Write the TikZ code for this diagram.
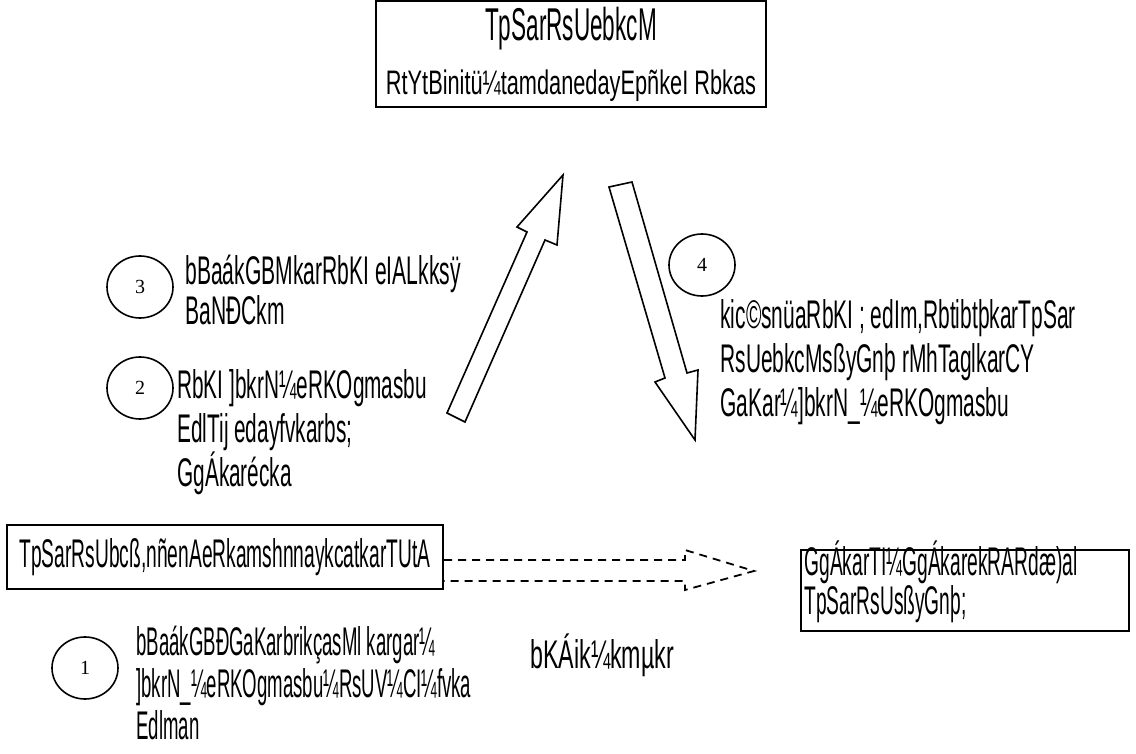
\documentclass[tikz,border=0pt]{standalone}
\usepackage{fontspec}
\setmainfont{Liberation Serif}
\newfontfamily\kmfont{Liberation Sans}
\newcommand\kmset[3]{\kmfont\addfontfeatures{FakeStretch=#1}\fontsize{#2}{#3}\selectfont}
\usetikzlibrary{shapes.geometric}
\usetikzlibrary{positioning}
\tikzset{frame/.style={draw,line width=1pt,inner sep=0pt},
         numcirc/.style={draw,ellipse,line width=0.8pt,minimum width=33pt,minimum height=31pt,inner sep=0pt,font={\fontsize{10}{12}\selectfont}},
         kmtext/.style={align=left,inner sep=0pt,anchor=west},
         blockarrow/.style={draw,line width=0.8pt,line join=miter},
         dasharrow/.style={draw,line width=0.9pt,dash pattern=on 4pt off 3pt},
         }
\begin{document}
\begin{tikzpicture}[x=0.5pt,y=-0.5pt]
\useasboundingbox (0,0) rectangle (1136,754);
% boxes
\node[frame,minimum width=195pt,minimum height=53pt,align=center] (topbox) at (571,54)
    {{\kmset{0.49}{23}{28}TpSarRsUebkcM}\\[9pt]{\kmset{0.64}{17}{28}RtYtBinitü¼tamdanedayEpñkeI Rbkas}};
\node[frame,minimum width=218pt,minimum height=32pt,font={\kmset{0.48}{20}{22}}] (leftbox) at (225,557)
    {TpSarRsUbcß,nñenAeRkamshnnaykcatkarTUtA};
\node[frame,minimum width=164pt,minimum height=40.5pt] (rightbox) at (965,590.5) {};
\node[kmtext,font={\kmset{0.48}{20}{16}}] (righttext) at (804,582) {GgÁkarTI¼GgÁkarekRARdæ)al\\TpSarRsUsßyGnþ;};
% numbered steps
\node[numcirc] (one) at (85,668) {1};
\node[numcirc] (two) at (140,388) {2};
\node[numcirc] (three) at (140,287) {3};
\node[numcirc] (four) at (702,265) {4};
\node[kmtext,font={\kmset{0.465}{20}{21}}] (onetext) at (136,683) {bBaákGBÐGaKarbrikçasMl kargar¼\\]bkrN\_¼eRKOgmasbu¼RsUV¼CI¼fvka\\Edlman};
\node[kmtext,font={\kmset{0.52}{20}{22}}] (twotext) at (177,432) {RbKI ]bkrN¼eRKOgmasbu\\EdlTij edayfvkarbs;\\GgÁkarécka};
\node[kmtext,font={\kmset{0.527}{20}{18}}] (threetext) at (185,290) {bBaákGBMkarRbKI eIALkksÿ\\BaNÐCkm};
\node[kmtext,font={\kmset{0.524}{20}{22}}] (fourtext) at (720,362) {kic©snüaRbKI ; edIm,RbtibtþkarTpSar\\RsUebkcMsßyGnþ rMhTaglkarCY\\GaKar¼]bkrN\_¼eRKOgmasbu};
\node[kmtext,font={\kmset{0.58}{20}{22}}] (workers) at (530,655) {bKÁik¼kmµkr};
% block arrows
\draw[blockarrow] (447,413) -- (527,232) -- (517,227) -- (563,175) -- (557,245) -- (545,240) -- (465,422) -- cycle;
\draw[blockarrow] (609,187) -- (665,378) -- (655,382) -- (695,440) -- (698,370) -- (687,373) -- (632,182) -- cycle;
% dashed arrow
\coordinate (dashtip) at (754,571);
\draw[dasharrow] (leftbox.east |- 0,560) -- (685,560) -- (685,550) -- (dashtip)
    -- (685,590) -- (685,581) -- (leftbox.east |- 0,581);
\end{tikzpicture}
\end{document}
